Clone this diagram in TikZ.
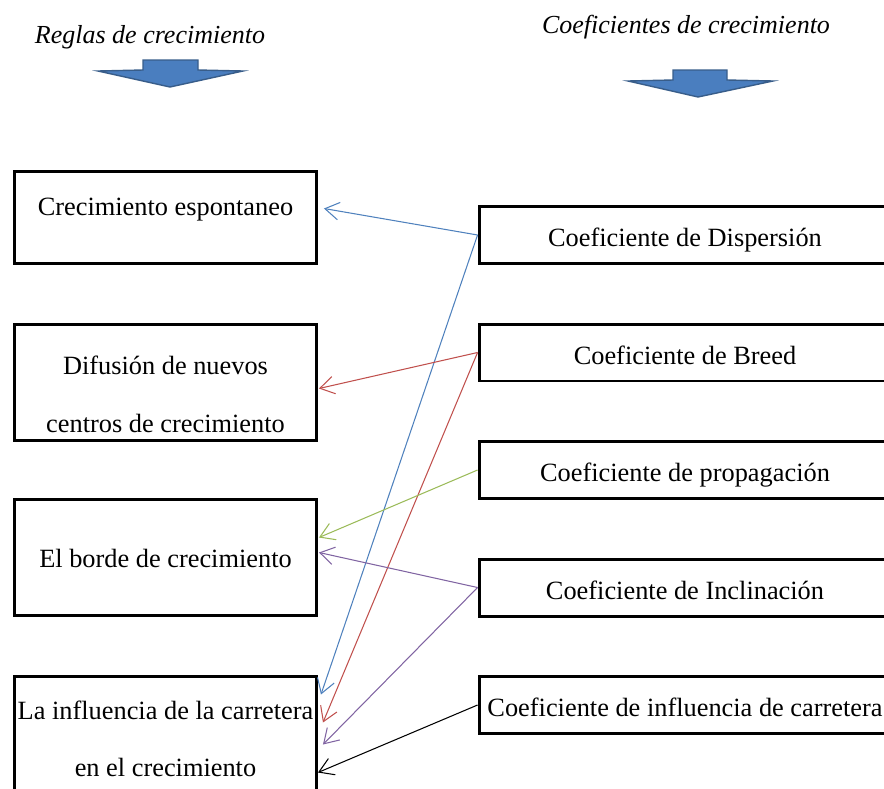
\documentclass[tikz,border=0pt]{standalone}
\usepackage{fontspec}
\setmainfont{Liberation Serif}
\usetikzlibrary{arrows.meta,calc}
\definecolor{flechaazul}{RGB}{74,126,191}
\definecolor{bordeazul}{RGB}{56,93,138}
\definecolor{linazul}{RGB}{79,129,189}
\definecolor{linroja}{RGB}{192,80,77}
\definecolor{linverde}{RGB}{155,187,89}
\definecolor{linmorada}{RGB}{128,100,162}

\begin{document}
\begin{tikzpicture}[x=0.02cm, y=-0.02cm,
  caja/.style={draw, line width=1.7pt, align=center, inner sep=0pt,
    font=\fontsize{15pt}{33pt}\selectfont},
  regla/.style={caja, minimum width=6.04cm, minimum height=2.32cm},
  coef/.style={caja, minimum width=8.24cm, minimum height=1.14cm,
    text height=16.5pt, text depth=3.3pt},
  enlace/.style={line width=0.6pt, -{Straight Barb[length=8pt,width=10pt]}},
  titulo/.style={font=\itshape\fontsize{14.8pt}{18pt}\selectfont},
  flecha/.style={fill=flechaazul, draw=bordeazul, line width=0.8pt}]
  \useasboundingbox (0,0) rectangle (884,788);
  \clip (0,0) rectangle (884,788);

  % Titles and block arrows
  \node[titulo] (treglas) at (150,37) {Reglas de crecimiento};
  \node[titulo] (tcoef) at (686,27) {Coeficientes de crecimiento};
  \draw[flecha] (143,60) -- (198,60) -- (198,70) -- (243,71) -- (170,87)
    -- (98,71) -- (143,70) -- cycle;
  \draw[flecha] (673,70) -- (727,70) -- (727,80) -- (773,81) -- (698,97)
    -- (628,81) -- (673,80) -- cycle;

  % Growth rules
  \node[regla, minimum height=1.84cm, text height=11pt, text depth=12.8pt]
    (regla1) at (165.5,217.5) {Crecimiento espontaneo};
  \node[regla] (regla2) at (165.5,382.5)
    {\rule{0pt}{24pt}Difusión de nuevos\\centros de crecimiento};
  \node[regla, text height=15.1pt, text depth=3.3pt]
    (regla3) at (165.5,557.5) {El borde de crecimiento};
  \node[regla] (regla4) at (165.5,734.5)
    {\rule{0pt}{15.5pt}La influencia de la carretera\\en el crecimiento};

  % Coefficients
  \node[coef] (coef1) at (685,235) {Coeficiente de Dispersión};
  \node[coef] (coef2) at (685,352.5) {Coeficiente de Breed};
  \node[coef] (coef3) at (685,470) {Coeficiente de propagación};
  \node[coef] (coef4) at (685,587.5) {Coeficiente de Inclinación};
  \node[coef] (coef5) at (685,705) {Coeficiente de influencia de carretera};

  % Links
  \draw[enlace, linazul] (coef1.west) -- ($(regla1.east)+(6,-9)$);
  \draw[enlace, linazul] (coef1.west) -- ($(regla4.east)+(3,-40)$);
  \draw[enlace, linroja] (coef2.west) -- ($(regla2.east)+(1,6)$);
  \draw[enlace, linroja] (coef2.west) -- ($(regla4.east)+(5,-12)$);
  \draw[enlace, linverde] (coef3.west) -- ($(regla3.east)+(1,-20)$);
  \draw[enlace, linmorada] (coef4.west) -- ($(regla3.east)+(1,-5)$);
  \draw[enlace, linmorada] (coef4.west) -- ($(regla4.east)+(5,10)$);
  \draw[enlace, black] (coef5.west) -- ($(regla4.east)+(0,38)$);
\end{tikzpicture}
\end{document}
